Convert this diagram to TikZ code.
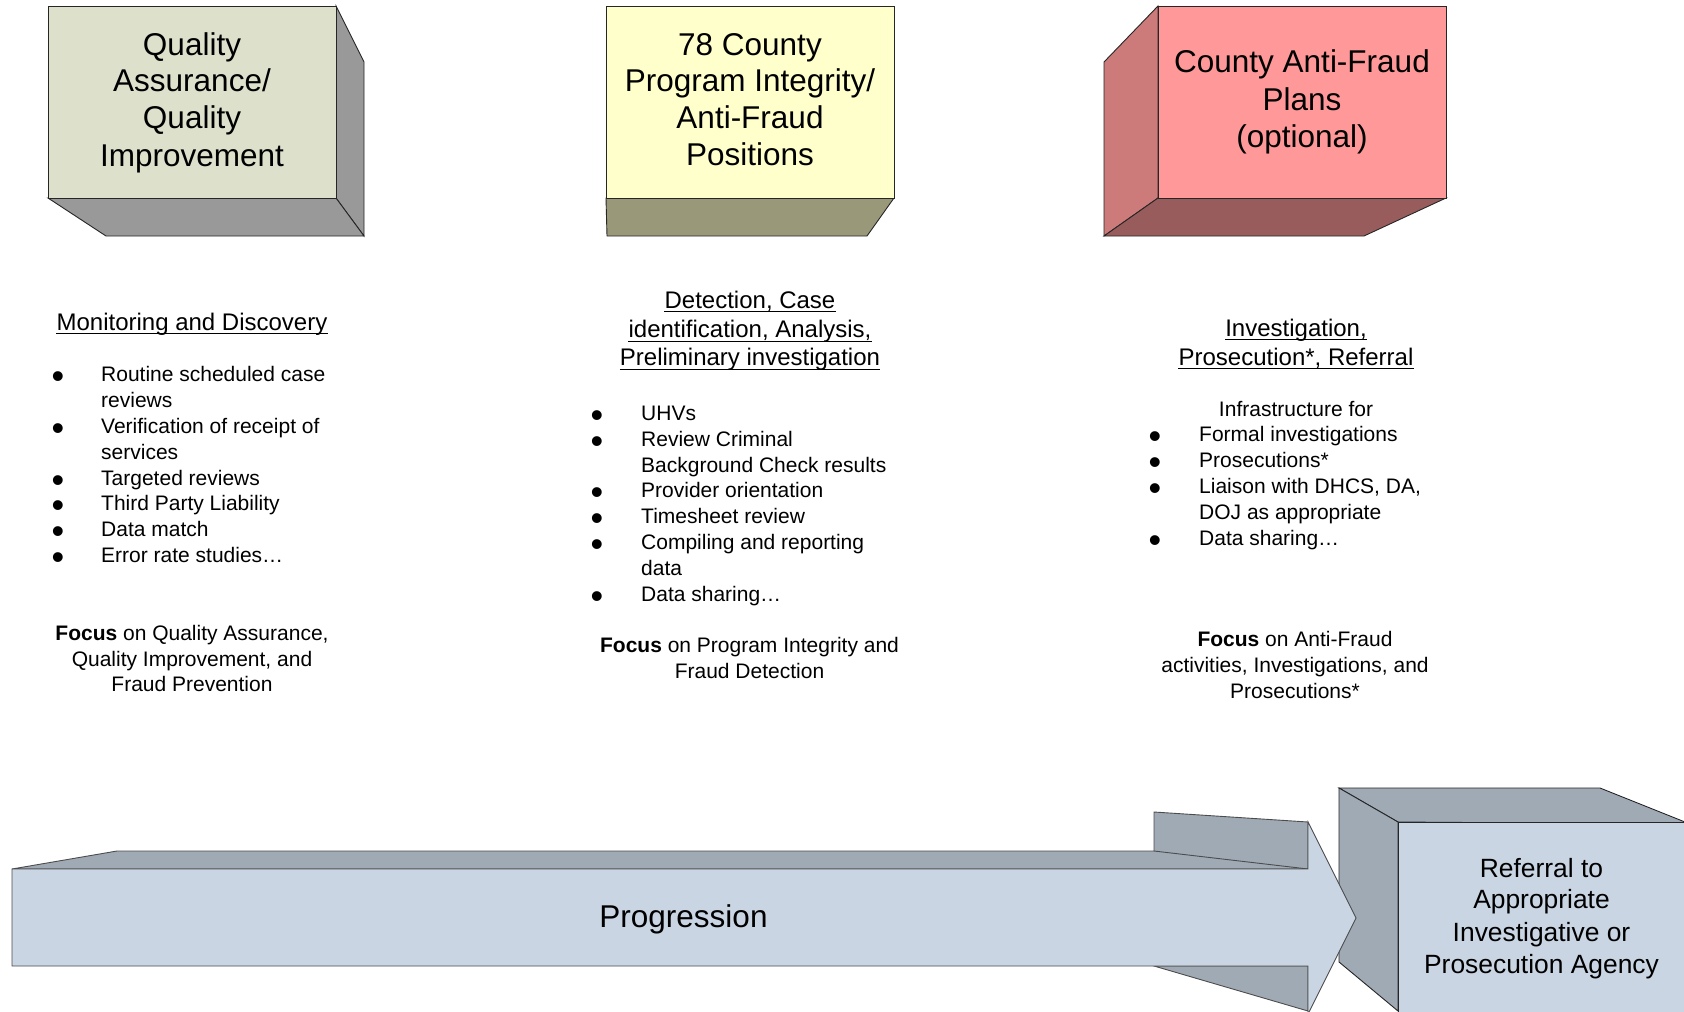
\documentclass[tikz,border=0pt]{standalone}
\usepackage{fontspec}
\setmainfont{Liberation Sans}
\definecolor{qafront}{RGB}{221,225,204}
\definecolor{qaside}{RGB}{153,153,153}
\definecolor{pifront}{RGB}{255,255,204}
\definecolor{piside}{RGB}{153,153,122}
\definecolor{affront}{RGB}{255,153,153}
\definecolor{afleft}{RGB}{204,122,122}
\definecolor{afbottom}{RGB}{153,92,92}
\definecolor{arfront}{RGB}{201,213,227}
\definecolor{arside}{RGB}{160,170,181}
\tikzset{
  face/.style={draw=black!85,line width=0.9pt,line join=miter},
  boxtitle/.style={font=\fontsize{31.5}{37}\selectfont,anchor=base,inner sep=0pt},
  head/.style={font=\fontsize{24}{29}\selectfont,anchor=base,inner sep=0pt},
  itemtxt/.style={font=\fontsize{21}{26}\selectfont,anchor=base west,inner sep=0pt},
  bul/.style={font=\fontsize{36}{38}\selectfont,anchor=base,inner sep=0pt,yshift=-7pt},
  ctrtxt/.style={font=\fontsize{21}{26}\selectfont,anchor=base,inner sep=0pt},
  reftxt/.style={font=\fontsize{26.4}{32}\selectfont,anchor=base,inner sep=0pt},
  uline/.style={line width=1.3pt}
}
\begin{document}
\begin{tikzpicture}[x=1pt,y=-1pt]
\useasboundingbox (0,0) rectangle (1684,1012);
\begin{scope}
\clip (0,0) rectangle (1684,1012);
% ---------- Box 1 ----------
\draw[face,fill=qaside] (336,6) -- (364,62) -- (364,236) -- (336,198) -- cycle;
\draw[face,fill=qaside] (48,198) -- (336,198) -- (364,236) -- (106,236) -- cycle;
\draw[face,fill=qafront] (48,6) rectangle (336,198);
\node[boxtitle] (t1a) at (192,55) {Quality};
\node[boxtitle] (t1b) at (192,91.7) {Assurance/};
\node[boxtitle] (t1c) at (192,128.3) {Quality};
\node[boxtitle] (t1d) at (192,166) {Improvement};
% ---------- Box 2 ----------
\draw[face,fill=piside] (606,198) -- (894,198) -- (867,236) -- (607,236) -- cycle;
\draw[face,fill=pifront] (606,6) rectangle (894,198);
\node[boxtitle] (t2a) at (750,55) {78 County};
\node[boxtitle] (t2b) at (750,91) {Program Integrity/};
\node[boxtitle] (t2c) at (750,128.3) {Anti-Fraud};
\node[boxtitle] (t2d) at (750,165.7) {Positions};
% ---------- Box 3 ----------
\draw[face,fill=afleft] (1158,6) -- (1104,62) -- (1104,236) -- (1158,198) -- cycle;
\draw[face,fill=afbottom] (1104,236) -- (1158,198) -- (1446,198) -- (1364,236) -- cycle;
\draw[face,fill=affront] (1158,6) rectangle (1446,198);
\node[boxtitle] (t3a) at (1302,72) {County Anti-Fraud};
\node[boxtitle] (t3b) at (1302,110) {Plans};
\node[boxtitle] (t3c) at (1302,147) {(optional)};
% ---------- Referral box ----------
\draw[face,fill=arside] (1339,788) -- (1600,788) -- (1690,824) -- (1398,822) -- cycle;
\draw[face,fill=arside] (1339,788) -- (1398,822) -- (1398,1011) -- (1339,962) -- cycle;
\draw[face,fill=arfront] (1398,822) rectangle (1710,1030);
% ---------- Progression arrow ----------
\draw[face,draw=black!70,fill=arside] (12,869) -- (117,851) -- (1154,851) -- (1154,812) -- (1308,822) -- (1308,869) -- cycle;
\draw[face,draw=black!70] (1154,851) -- (1308,869);
\draw[face,draw=black!70,fill=arside] (1154,966) -- (1308,966) -- (1308,1011) -- cycle;
\draw[face,draw=black!70,fill=arfront] (12,869) -- (1308,869) -- (1308,822) -- (1356,918) -- (1308,1014) -- (1308,966) -- (12,966) -- cycle;
\end{scope}
\node[boxtitle] (prog) at (683.5,927) {Progression};
\node[reftxt] (r1) at (1541.5,877) {Referral to};
\node[reftxt] (r2) at (1541.5,908.5) {Appropriate};
\node[reftxt] (r3) at (1541.5,941.5) {Investigative or};
\node[reftxt] (r4) at (1541.5,973.3) {Prosecution Agency};
% ---------- Column 1 ----------
\node[head] (h1) at (192,330) {Monitoring and Discovery};
\draw[uline] ([yshift=-3.5pt]h1.base west) -- ([yshift=-3.5pt]h1.base east);
\node[bul] (b1a) at (58,381.7) {\textbullet};
\node[itemtxt] (i1a) at (101,381.7) {Routine scheduled case};
\node[itemtxt] (i1b) at (101,407.7) {reviews};
\node[bul] (b1c) at (58,433.3) {\textbullet};
\node[itemtxt] (i1c) at (101,433.3) {Verification of receipt of};
\node[itemtxt] (i1d) at (101,459.3) {services};
\node[bul] (b1e) at (58,485) {\textbullet};
\node[itemtxt] (i1e) at (101,485) {Targeted reviews};
\node[bul] (b1f) at (58,510.7) {\textbullet};
\node[itemtxt] (i1f) at (101,510.7) {Third Party Liability};
\node[bul] (b1g) at (58,536.7) {\textbullet};
\node[itemtxt] (i1g) at (101,536.7) {Data match};
\node[bul] (b1h) at (58,562.7) {\textbullet};
\node[itemtxt] (i1h) at (101,562.7) {Error rate studies…};
\node[ctrtxt] (f1a) at (192,640) {\textbf{Focus} on Quality Assurance,};
\node[ctrtxt] (f1b) at (192,666.3) {Quality Improvement, and};
\node[ctrtxt] (f1c) at (192,691.7) {Fraud Prevention};
% ---------- Column 2 ----------
\node[head] (h2a) at (750,308.3) {Detection, Case};
\node[head] (h2b) at (750,337.7) {identification, Analysis,};
\node[head] (h2c) at (750,365.7) {Preliminary investigation};
\draw[uline] ([yshift=-3.5pt]h2a.base west) -- ([yshift=-3.5pt]h2a.base east);
\draw[uline] ([yshift=-3.5pt]h2b.base west) -- ([yshift=-3.5pt]h2b.base east);
\draw[uline] ([yshift=-3.5pt]h2c.base west) -- ([yshift=-3.5pt]h2c.base east);
\node[bul] (b2a) at (597,420.7) {\textbullet};
\node[itemtxt] (i2a) at (641,420.7) {UHVs};
\node[bul] (b2b) at (597,446.7) {\textbullet};
\node[itemtxt] (i2b) at (641,446.7) {Review Criminal};
\node[itemtxt] (i2c) at (641,472.3) {Background Check results};
\node[bul] (b2d) at (597,497.7) {\textbullet};
\node[itemtxt] (i2d) at (641,497.7) {Provider orientation};
\node[bul] (b2e) at (597,523.3) {\textbullet};
\node[itemtxt] (i2e) at (641,523.3) {Timesheet review};
\node[bul] (b2f) at (597,549.5) {\textbullet};
\node[itemtxt] (i2f) at (641,549.5) {Compiling and reporting};
\node[itemtxt] (i2g) at (641,575) {data};
\node[bul] (b2h) at (597,601) {\textbullet};
\node[itemtxt] (i2h) at (641,601) {Data sharing…};
\node[ctrtxt] (f2a) at (749.5,652.3) {\textbf{Focus} on Program Integrity and};
\node[ctrtxt] (f2b) at (749.5,678.3) {Fraud Detection};
% ---------- Column 3 ----------
\node[head] (h3a) at (1296,336) {Investigation,};
\node[head] (h3b) at (1296,365) {Prosecution*, Referral};
\draw[uline] ([yshift=-3.5pt]h3a.base west) -- ([yshift=-3.5pt]h3a.base east);
\draw[uline] ([yshift=-3.5pt]h3b.base west) -- ([yshift=-3.5pt]h3b.base east);
\node[ctrtxt] (inf) at (1296,416.7) {Infrastructure for};
\node[bul] (b3a) at (1155,441.7) {\textbullet};
\node[itemtxt] (i3a) at (1199,441.7) {Formal investigations};
\node[bul] (b3b) at (1155,467.3) {\textbullet};
\node[itemtxt] (i3b) at (1199,467.3) {Prosecutions*};
\node[bul] (b3c) at (1155,493.3) {\textbullet};
\node[itemtxt] (i3c) at (1199,493.3) {Liaison with DHCS, DA,};
\node[itemtxt] (i3d) at (1199,519.3) {DOJ as appropriate};
\node[bul] (b3e) at (1155,545) {\textbullet};
\node[itemtxt] (i3e) at (1199,545) {Data sharing…};
\node[ctrtxt] (f3a) at (1295,646.7) {\textbf{Focus} on Anti-Fraud};
\node[ctrtxt] (f3b) at (1295,672.3) {activities, Investigations, and};
\node[ctrtxt] (f3c) at (1295,698.3) {Prosecutions*};
\end{tikzpicture}
\end{document}
